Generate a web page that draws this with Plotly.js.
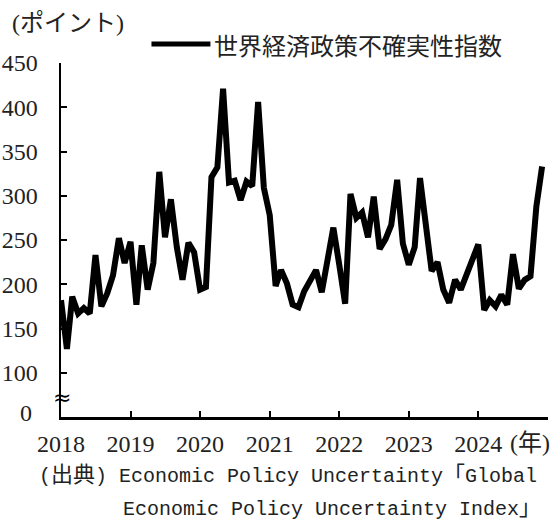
<!DOCTYPE html>
<html>
<head>
<meta charset="utf-8">
<script src="https://cdn.plot.ly/plotly-3.0.1.min.js"></script>
<style>html,body{margin:0;padding:0;background:#fff;}#chart{width:560px;height:521px;}</style>
</head>
<body>
<div id="chart"></div>
<script>
const years = [2018, 2019, 2020, 2021, 2022, 2023, 2024];
const months = ['01','02','03','04','05','06','07','08','09','10','11','12'];
const v2018 = [182, 127, 186, 167, 173, 167, 233, 175, 190, 210, 252, 224];
const v2019 = [248, 177, 244, 194, 224, 327, 253, 296, 242, 205, 247, 236];
const v2020 = [194, 197, 321, 332, 421, 315, 317, 295, 316, 311, 406, 309];
const v2021 = [278, 198, 216, 201, 177, 174, 192, 205, 216, 191, 229, 264];
const v2022 = [222, 178, 302, 275, 281, 253, 299, 240, 251, 267, 318, 246];
const v2023 = [222, 242, 320, 270, 215, 225, 194, 179, 205, 194, 210, 226];
const v2024 = [245, 171, 182, 175, 188, 177, 234, 195, 205, 209, 288, 333];
const yTickVals = [100, 150, 200, 250, 300, 350, 400, 450];
const yTickText = ['100', '150', '200', '250', '300', '350', '400', '450'];
const seriesName = '世界経済政策不確実性指数';

const values = [].concat(v2018, v2019, v2020, v2021, v2022, v2023, v2024);
const dates = [];
years.forEach(y => months.forEach(m => dates.push(y + '-' + m + '-01')));

const serif = '"Liberation Serif", "Noto Sans CJK JP", serif';
const cjk = '"Noto Sans CJK JP", sans-serif';
const mono = '"Liberation Mono", "Noto Sans CJK JP", monospace';
const txt = '#222';

const PL = 60.5, PR = 547.7, PT = 63, PB = 417;
const px = x => (x - PL) / (PR - PL);
const py = y => (PB - y) / (PB - PT);
const big = s => '<span style="font-family:Noto Sans CJK JP;font-size:22px">' + s + '</span>';

const trace = {
  x: dates, y: values, type: 'scatter', mode: 'lines', name: seriesName,
  line: {color: '#000', width: 6}, showlegend: false, cliponaxis: false
};

const layout = {
  width: 560, height: 521,
  margin: {l: PL, r: 560 - PR, t: PT, b: 521 - PB, pad: 0},
  paper_bgcolor: '#fff', plot_bgcolor: '#fff',
  showlegend: false,
  font: {family: serif, size: 24, color: txt},
  xaxis: {
    type: 'date', range: ['2018-01-01', '2025-01-01'],
    tickvals: years.map(y => y + '-01-01'), ticktext: years.map(String),
    ticks: 'inside', ticklen: 6, tickwidth: 2, tickcolor: '#000',
    showline: true, linecolor: '#000', linewidth: 2.5,
    showgrid: false, zeroline: false, ticklabelstandoff: 4,
    tickfont: {family: serif, size: 24, color: txt}
  },
  yaxis: {
    range: [50, 450], tickvals: yTickVals, ticktext: yTickText,
    ticks: 'inside', ticklen: 6, tickwidth: 2, tickcolor: '#000',
    showline: true, linecolor: '#000', linewidth: 2.5,
    showgrid: false, zeroline: false, ticklabelstandoff: 16,
    tickfont: {family: serif, size: 24, color: txt}
  },
  shapes: [
    {type: 'line', xref: 'paper', yref: 'paper', x0: px(151), x1: px(210), y0: py(44), y1: py(44),
     line: {color: '#000', width: 5}}
  ],
  annotations: [
    {xref: 'paper', yref: 'paper', x: px(212), y: py(44), xanchor: 'left', yanchor: 'middle',
     text: seriesName, showarrow: false, font: {family: cjk, size: 24, color: txt}},
    {xref: 'paper', yref: 'paper', x: px(9), y: py(23), xanchor: 'left', yanchor: 'middle',
     text: '(ポイント)', showarrow: false, font: {family: serif, size: 24, color: txt}},
    {xref: 'paper', yref: 'paper', x: px(33), y: py(413), xanchor: 'right', yanchor: 'middle',
     text: '0', showarrow: false, font: {family: serif, size: 24, color: txt}},
    {xref: 'paper', yref: 'paper', x: px(62), y: py(397), xanchor: 'center', yanchor: 'middle',
     text: '≈', showarrow: false, font: {family: '"DejaVu Sans", sans-serif', size: 22, color: '#000'}},
    {xref: 'paper', yref: 'paper', x: px(508), y: py(443), xanchor: 'left', yanchor: 'middle',
     text: '(年)', showarrow: false, font: {family: serif, size: 24, color: txt}},
    {xref: 'paper', yref: 'paper', x: px(36), y: py(472), xanchor: 'left', yanchor: 'middle',
     text: '(' + big('出典') + ') Economic Policy Uncertainty' + big('「') + 'Global',
     showarrow: false, font: {family: mono, size: 20, color: txt}},
    {xref: 'paper', yref: 'paper', x: px(121), y: py(505), xanchor: 'left', yanchor: 'middle',
     text: 'Economic Policy Uncertainty Index' + big('」'),
     showarrow: false, font: {family: mono, size: 20, color: txt}}
  ]
};

Plotly.newPlot('chart', [trace], layout, {staticPlot: true, displayModeBar: false});
</script>
</body>
</html>
